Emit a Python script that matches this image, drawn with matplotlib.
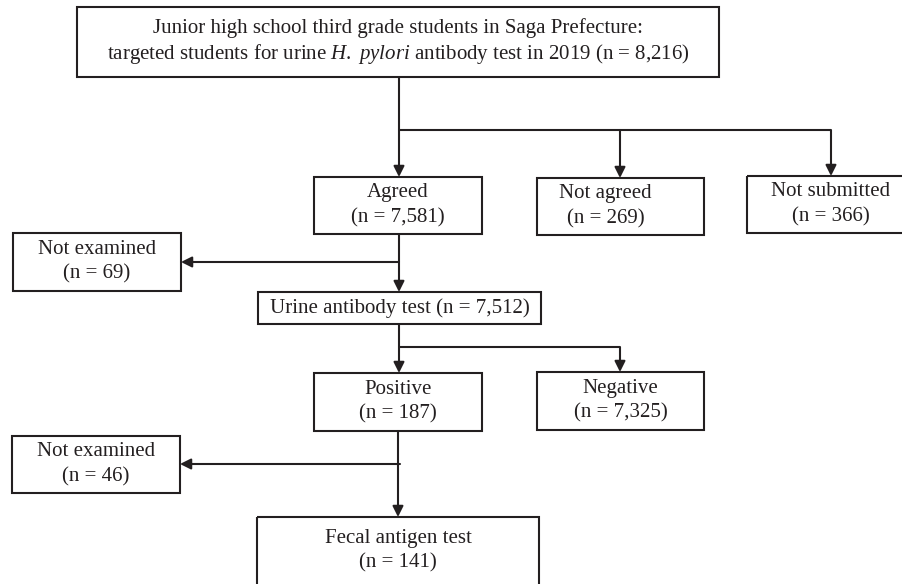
import matplotlib.pyplot as plt
from matplotlib.patches import Rectangle

plt.rcParams['font.family'] = 'Liberation Serif'
plt.rcParams['mathtext.fontset'] = 'custom'
plt.rcParams['mathtext.rm'] = 'Liberation Serif'
plt.rcParams['mathtext.it'] = 'Liberation Serif:italic'

# flowchart content
labels = ["Junior high school third grade students in Saga Prefecture:",
          "Agreed", "Not agreed", "Not submitted", "Not examined",
          "Urine antibody test", "Positive", "Negative", "Not examined",
          "Fecal antigen test"]
subtitle = "targeted students for urine $\\mathit{H.}$ $\\mathit{pylori}$ antibody test in 2019"
counts = [8216, 7581, 269, 366, 69, 7512, 187, 7325, 46, 141]

# box geometry in pixels: x0, y0, x1, y1
boxes = [(77, 7, 719, 77),
         (314, 177, 482, 234),
         (537, 178, 704, 235),
         (747, 176, 915, 233),
         (13, 233, 181, 291),
         (258, 292, 541, 324),
         (314, 373, 482, 431),
         (537, 372, 704, 430),
         (12, 436, 180, 493),
         (257, 517, 539, 600)]
# text centre x offsets (the reference is not always centred)
text_dx = [0, 0, -15, 0, 0, 0, 0, 0, 0, 0]

ink = '#231f20'
fig = plt.figure(figsize=(9.03, 5.84), dpi=100)
ax = fig.add_axes([0, 0, 1, 1])
ax.set_xlim(0, 903)
ax.set_ylim(584, 0)
ax.axis('off')

lw = 1.5
fs = 15

for i, (lab, n, b) in enumerate(zip(labels, counts, boxes)):
    x0, y0, x1, y1 = b
    ax.add_patch(Rectangle((x0, y0), x1 - x0, y1 - y0, fill=False,
                           ec=ink, lw=lw))
    cx = (x0 + x1) / 2 + text_dx[i]
    cy = (y0 + y1) / 2
    if i == 0:
        ax.text(cx, 28, lab, ha='center', va='center', fontsize=fs, color=ink)
        ax.text(cx, 54, subtitle + f" (n = {n:,})", ha='center', va='center',
                fontsize=fs, color=ink)
    elif i == 5:
        ax.text(cx, cy, f"{lab} (n = {n:,})", ha='center',
                va='center', fontsize=fs, color=ink)
    else:
        if i == 9:
            cy = 551
        ax.text(cx, cy - 13, lab, ha='center', va='center', fontsize=fs,
                color=ink)
        ax.text(cx, cy + 12, f"(n = {n:,})", ha='center', va='center',
                fontsize=fs, color=ink)


def line(xs, ys):
    ax.plot(xs, ys, color=ink, lw=lw, solid_capstyle='butt')


def arrow(x0, y0, x1, y1):
    ax.annotate('', xy=(x1, y1), xytext=(x0, y0),
                arrowprops=dict(arrowstyle='-|>', color=ink, lw=lw,
                                mutation_scale=16, shrinkA=0, shrinkB=0))


# top split
line([399, 399], [77, 130])
line([399, 831], [130, 130])
arrow(399, 130, 399, 177)
arrow(620, 130, 620, 178)
arrow(831, 130, 831, 176)

# agreed -> urine test, branch not examined
line([399, 399], [234, 262])
arrow(399, 262, 181, 262)
arrow(399, 262, 399, 292)

# urine -> positive / negative
line([399, 399], [324, 347])
line([399, 620], [347, 347])
arrow(399, 347, 399, 373)
arrow(620, 347, 620, 372)

# positive -> fecal, branch not examined
arrow(400, 464, 180, 464)
arrow(398, 431, 398, 517)

fig.savefig('out.png', dpi=100)
